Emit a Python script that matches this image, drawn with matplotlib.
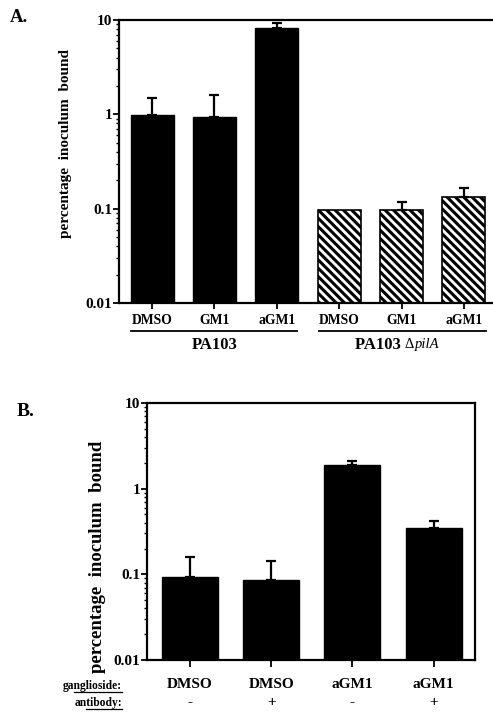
import numpy as np
import matplotlib
matplotlib.use('Agg')
import matplotlib.pyplot as plt

plt.rcParams['font.family'] = ['Liberation Serif', 'DejaVu Serif']
plt.rcParams['font.weight'] = 'bold'
plt.rcParams['hatch.linewidth'] = 2.2

# Панель A
a_labels = ['DMSO', 'GM1', 'aGM1', 'DMSO', 'GM1', 'aGM1']
a_values = [0.98, 0.94, 8.2, 0.096, 0.096, 0.134]
a_err_up = [0.52, 0.66, 1.0, 0.0, 0.022, 0.03]
a_hatched = [False, False, False, True, True, True]
a_group1 = 'PA103'
a_group2 = ['PA103', '\u0394', 'pilA']

# Панель B
b_ganglioside = ['DMSO', 'DMSO', 'aGM1', 'aGM1']
b_antibody = ['-', '+', '-', '+']
b_values = [0.093, 0.085, 1.9, 0.347]
b_err_up = [0.068, 0.059, 0.2, 0.067]

W, H = 493, 712
fig = plt.figure(figsize=(W / 100, H / 100), dpi=100)


def box(l, t, r, b):
    return [l / W, 1 - b / H, (r - l) / W, (b - t) / H]


def style_log_axis(ax, fs):
    ax.set_yscale('log')
    ax.set_ylim(0.01, 10)
    ax.set_yticks([0.01, 0.1, 1, 10])
    ax.set_yticklabels(['0.01', '0.1', '1', '10'], fontsize=fs, fontweight='bold')
    ax.tick_params(axis='y', which='major', direction='out', length=4, width=1.3, pad=1)
    ax.tick_params(axis='y', which='minor', direction='out', length=2.2, width=1)
    for s in ax.spines.values():
        s.set_linewidth(1.6)


# ---- A ----
axA = fig.add_axes(box(119, 20, 492, 303))
xa = np.arange(len(a_values))
for i in range(len(a_values)):
    if a_hatched[i]:
        axA.bar(xa[i], a_values[i], width=0.69, color='white', edgecolor='black',
                hatch='\\\\\\\\', linewidth=1.2, bottom=0.0001)
    else:
        axA.bar(xa[i], a_values[i], width=0.69, color='black', edgecolor='black', bottom=0.0001)
    if a_err_up[i] > 0:
        axA.errorbar(xa[i], a_values[i], yerr=[[0], [a_err_up[i]]], fmt='none',
                     ecolor='black', elinewidth=1.6, capsize=3.5, capthick=1.6)
axA.set_xlim(-0.53, 5.45)
style_log_axis(axA, 11)
axA.spines['right'].set_visible(False)
axA.set_xticks(xa)
axA.set_xticklabels(a_labels, fontsize=9.8, fontweight='bold')
axA.tick_params(axis='x', direction='out', length=4, width=1.3, pad=4)
fig.text(65 / W, 1 - 143 / H, 'percentage  inoculum  bound', rotation=90,
         fontsize=11, fontweight='bold', ha='center', va='center')

# группы
tr = axA.get_xaxis_transform()
axA.plot([-0.34, 2.32], [-0.098, -0.098], color='black', lw=1.3, transform=tr, clip_on=False)
axA.plot([2.68, 5.35], [-0.098, -0.098], color='black', lw=1.3, transform=tr, clip_on=False)
axA.text(1.0, -0.148, a_group1, transform=tr, ha='center', va='center',
         fontsize=12, fontweight='bold')
axA.text(4.05, -0.148, a_group2[0] + ' ', transform=tr, ha='right', va='center',
         fontsize=12, fontweight='bold')
axA.text(4.05, -0.148, a_group2[1], transform=tr, ha='left', va='center',
         fontsize=10.5, fontweight='normal')
axA.text(4.22, -0.148, a_group2[2], transform=tr, ha='left', va='center',
         fontsize=10.5, fontweight='normal', fontstyle='italic')
fig.text(10 / W, 1 - 18 / H, 'A.', fontsize=13.5, fontweight='bold', ha='left', va='center')

# ---- B ----
axB = fig.add_axes(box(147, 403, 475, 660))
xb = np.arange(len(b_values))
axB.bar(xb, b_values, width=0.69, color='black', edgecolor='black', bottom=0.0001)
axB.errorbar(xb, b_values, yerr=[np.zeros(len(b_err_up)), b_err_up], fmt='none',
             ecolor='black', elinewidth=1.6, capsize=3.5, capthick=1.6)
axB.set_xlim(-0.53, 3.51)
style_log_axis(axB, 11)
axB.set_xticks(xb)
axB.set_xticklabels(b_ganglioside, fontsize=11, fontweight='bold')
axB.tick_params(axis='x', direction='out', length=5, width=1.3, pad=8)
fig.text(97 / W, 1 - 557 / H, 'percentage  inoculum  bound', rotation=90,
         fontsize=13.5, fontweight='bold', ha='center', va='center')

trb = axB.get_xaxis_transform()
for i in range(len(b_antibody)):
    axB.text(xb[i], -0.167, b_antibody[i], transform=trb, ha='center', va='center',
             fontsize=11, fontweight='bold')
fig.text(122 / W, 1 - 686 / H, 'ganglioside:', fontsize=8.3, fontweight='bold',
         ha='right', va='center')
fig.text(122 / W, 1 - 703 / H, 'antibody:', fontsize=8.3, fontweight='bold',
         ha='right', va='center')
fig.add_artist(plt.Line2D([74 / W, 122 / W], [1 - 692 / H] * 2, color='black', lw=0.9))
fig.add_artist(plt.Line2D([86 / W, 122 / W], [1 - 709 / H] * 2, color='black', lw=0.9))
fig.text(17 / W, 1 - 411 / H, 'B.', fontsize=14, fontweight='bold', ha='left', va='center')

fig.savefig('out.png', dpi=100)
